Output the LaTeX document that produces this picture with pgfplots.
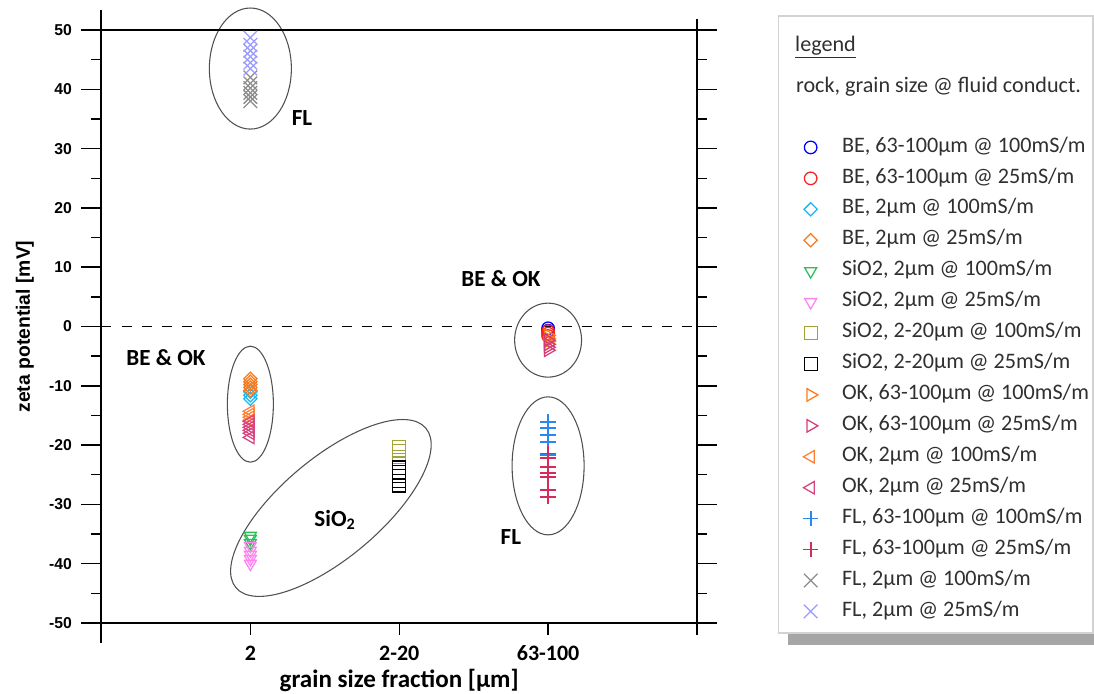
\documentclass[border=0pt]{standalone}
\usepackage{fontspec}
\setmainfont{Liberation Sans}
\newfontfamily\carlito{Carlito}
\usepackage{pgfplots}
\pgfplotsset{compat=1.18}
\usetikzlibrary{shadows}
\definecolor{cBEa}{HTML}{0000FF}
\definecolor{cBEb}{HTML}{FF2020}
\definecolor{cBEc}{HTML}{19B8F5}
\definecolor{cBEd}{HTML}{F87A1E}
\definecolor{cSIa}{HTML}{2DBE5A}
\definecolor{cSIb}{HTML}{FF82F0}
\definecolor{cSIc}{HTML}{A3A335}
\definecolor{cSId}{HTML}{000000}
\definecolor{cOKa}{HTML}{FF7A1A}
\definecolor{cOKb}{HTML}{D43C78}
\definecolor{cOKc}{HTML}{FF8036}
\definecolor{cOKd}{HTML}{D8457E}
\definecolor{cFLa}{HTML}{2A86F0}
\definecolor{cFLb}{HTML}{D42A5C}
\definecolor{cFLc}{HTML}{8C8C8C}
\definecolor{cFLd}{HTML}{9A9AFF}
\definecolor{ell}{HTML}{505050}
\definecolor{legtext}{HTML}{303030}
\newcommand{\lt}[1]{\textcolor{legtext}{#1}}
\begin{document}
\begin{tikzpicture}
% legend frame with shadow
\draw[draw=gray!35, fill=white, line width=0.8pt,
  drop shadow={shadow xshift=7.5pt, shadow yshift=-9pt, fill=gray!70, opacity=1}]
  (507.4pt,-7.5pt) rectangle (743.6pt,455.25pt);
\node[anchor=west, inner sep=0pt, text=legtext, font=\carlito\fontsize{16.6pt}{19pt}\selectfont] at (520.1pt,432pt) {\underline{legend}};
\node[anchor=west, inner sep=0pt, text=legtext, font=\carlito\fontsize{16.6pt}{19pt}\selectfont] at (520.8pt,402.5pt) {rock, grain size @ fluid conduct.};
\begin{axis}[
  at={(0pt,0pt)}, anchor=south west,
  scale only axis, width=446.6pt, height=444.75pt,
  xmin=0, xmax=4, ymin=-50, ymax=50,
  clip=false,
  axis line style={line width=1.5pt},
  every tick/.style={black, line width=1.1pt},
  tick align=outside,
  major tick length=15pt, minor tick length=7.5pt,
  xtick={1,2,3}, xticklabels={2,2-20,63-100},
  xtick pos=bottom, x tick style={draw=none}, xtick align=inside,
  xticklabel style={font=\carlito\bfseries\fontsize{16.5pt}{19pt}\selectfont, inner sep=0pt, anchor=north, yshift=-17pt},
  ytick={-50,-40,-30,-20,-10,0,10,20,30,40,50},
  yticklabels={-50,-40,-30,-20,-10,0,10,20,30,40,50},
  minor y tick num=1,
  ytick pos=both, yticklabel pos=left,
  yticklabel style={font=\bfseries\fontsize{11.8pt}{13pt}\selectfont, inner sep=0pt, xshift=-7.1pt},
  xlabel={grain size fraction [µm]},
  xlabel style={font=\carlito\bfseries\fontsize{18.8pt}{21pt}\selectfont, at={(axis description cs:0.5,-0.097)}, anchor=center},
  ylabel={zeta potential [mV]},
  ylabel style={font=\bfseries\fontsize{14.5pt}{16pt}\selectfont, at={(axis description cs:-0.1285,0.5)}, anchor=center},
  legend style={at={(axis description cs:1.1775,0.8193)}, anchor=north west,
    draw=none, fill=none, inner sep=0pt, row sep=8.2pt, column sep=17.7pt,
    font=\carlito\fontsize{16.6pt}{19pt}\selectfont,
    nodes={inner sep=0pt, text height=11pt, text depth=4pt}},
  legend cell align=left,
  every axis plot/.append style={only marks, line width=0.95pt},
]
\draw[line width=1.1pt, dash pattern=on 7.5pt off 7.5pt] (axis cs:0,0) -- (axis cs:4,0);
% BE
\addplot[cBEa, mark=o, mark size=4.7pt] coordinates {(3,-0.3) (3,-0.7)};
\addlegendentry{\lt{BE, 63-100µm @ 100mS/m}}
\addplot[cBEb, mark=o, mark size=4.7pt] coordinates {(3,-0.8) (3,-1.2) (3,-1.6)};
\addlegendentry{\lt{BE, 63-100µm @ 25mS/m}}
\addplot[cBEc, mark=square, mark size=3.5pt, mark options={rotate=45}] coordinates {(1,-11) (1,-11.6) (1,-12.2)};
\addlegendentry{\lt{BE, 2µm @ 100mS/m}}
\addplot[cBEd, mark=square, mark size=3.5pt, mark options={rotate=45}] coordinates {(1,-8.8) (1,-9.3) (1,-9.8) (1,-10.3) (1,-10.8)};
\addlegendentry{\lt{BE, 2µm @ 25mS/m}}
% SiO2
\addplot[cSIa, mark=triangle, mark size=5.2pt, mark options={rotate=180}] coordinates {(1,-35.3) (1,-35.8) (1,-36.5)};
\addlegendentry{\lt{SiO2, 2µm @ 100mS/m}}
\addplot[cSIb, mark=triangle, mark size=5.2pt, mark options={rotate=180}] coordinates {(1,-37) (1,-37.8) (1,-38.5) (1,-39.2) (1,-40)};
\addlegendentry{\lt{SiO2, 2µm @ 25mS/m}}
\addplot[cSIc, mark=square, mark size=4.9pt] coordinates {(2,-20.3) (2,-21) (2,-22) (2,-23)};
\addlegendentry{\lt{SiO2, 2-20µm @ 100mS/m}}
\addplot[cSId, mark=square, mark size=4.9pt] coordinates {(2,-23.8) (2,-24.5) (2,-25.2) (2,-26) (2,-26.8)};
\addlegendentry{\lt{SiO2, 2-20µm @ 25mS/m}}
% OK
\addplot[cOKa, mark=triangle, mark size=5.4pt, mark options={rotate=-90}] coordinates {(3,-1.5) (3,-2) (3,-2.5) (3,-3)};
\addlegendentry{\lt{OK, 63-100µm @ 100mS/m}}
\addplot[cOKb, mark=triangle, mark size=5.4pt, mark options={rotate=-90}] coordinates {(3,-2.3) (3,-3) (3,-3.5) (3,-4)};
\addlegendentry{\lt{OK, 63-100µm @ 25mS/m}}
\addplot[cOKc, mark=triangle, mark size=5.4pt, mark options={rotate=90}] coordinates {(1,-14.3) (1,-14.8) (1,-15.3) (1,-15.8)};
\addlegendentry{\lt{OK, 2µm @ 100mS/m}}
\addplot[cOKd, mark=triangle, mark size=5.4pt, mark options={rotate=90}] coordinates {(1,-16) (1,-16.5) (1,-17) (1,-17.5) (1,-18) (1,-18.7)};
\addlegendentry{\lt{OK, 2µm @ 25mS/m}}
% FL
\addplot[cFLa, mark=+, mark size=5.8pt, line width=1.3pt] coordinates {(3,-16.1) (3,-17.1) (3,-18.3) (3,-19.5) (3,-21.7) (3,-22.2)};
\addlegendentry{\lt{FL, 63-100µm @ 100mS/m}}
\addplot[cFLb, mark=+, mark size=5.8pt, line width=1.3pt] coordinates {(3,-21.4) (3,-22.2) (3,-23.7) (3,-24.7) (3,-25.4) (3,-27.6) (3,-28.7)};
\addlegendentry{\lt{FL, 63-100µm @ 25mS/m}}
\addplot[cFLc, mark=x, mark size=7.2pt] coordinates {(1,42) (1,41) (1,40.2) (1,39.4) (1,38.7) (1,38)};
\addlegendentry{\lt{FL, 2µm @ 100mS/m}}
\addplot[cFLd, mark=x, mark size=7.2pt] coordinates {(1,48.7) (1,47.5) (1,46.5) (1,45.5) (1,44.5) (1,43.5)};
\addlegendentry{\lt{FL, 2µm @ 25mS/m}}
% ellipses
\draw[ell, line width=0.8pt] (axis cs:1,43.5) ellipse[x radius=30.75pt, y radius=45.4pt];
\draw[ell, line width=0.8pt] (axis cs:1,-13.1) ellipse[x radius=17.25pt, y radius=43.5pt];
\draw[ell, line width=0.8pt] (axis cs:1.541,-30.6) ellipse[x radius=93pt, y radius=37.5pt, rotate=40];
\draw[ell, line width=0.8pt] (axis cs:3,-2.3) ellipse[x radius=25.1pt, y radius=27.75pt];
\draw[ell, line width=0.8pt] (axis cs:3,-23.5) ellipse[x radius=27pt, y radius=51.75pt];
% annotations
\node[font=\carlito\bfseries\fontsize{17.3pt}{20pt}\selectfont] at (axis cs:1.347,35.2) {FL};
\node[font=\carlito\bfseries\fontsize{17.3pt}{20pt}\selectfont] at (axis cs:0.433,-5.3) {BE \& OK};
\node[font=\carlito\bfseries\fontsize{17.3pt}{20pt}\selectfont] at (axis cs:2.683,8.0) {BE \& OK};
\node[font=\carlito\bfseries\fontsize{17.3pt}{20pt}\selectfont] at (axis cs:1.568,-32.6) {SiO\textsubscript{2}};
\node[font=\carlito\bfseries\fontsize{17.3pt}{20pt}\selectfont] at (axis cs:2.75,-35.5) {FL};
% axis line extensions and x ticks
\draw[line width=1.5pt] ([xshift=-15pt]rel axis cs:0,1) -- ([xshift=15pt]rel axis cs:1,1);
\draw[line width=1.5pt] ([xshift=-15pt]rel axis cs:0,0) -- ([xshift=15pt]rel axis cs:1,0);
\draw[line width=1.5pt] ([yshift=15pt]rel axis cs:0,1) -- ([yshift=-15pt]rel axis cs:0,0);
\draw[line width=1.5pt] ([yshift=8pt]rel axis cs:1,1) -- ([yshift=-9pt]rel axis cs:1,0);
\draw[line width=1.1pt] (axis cs:1,-50) -- ([yshift=-9pt]axis cs:1,-50);
\draw[line width=1.1pt] (axis cs:2,-50) -- ([yshift=-9pt]axis cs:2,-50);
\draw[line width=1.1pt] (axis cs:3,-50) -- ([yshift=-9pt]axis cs:3,-50);
\end{axis}
\pgfresetboundingbox
\useasboundingbox (-76.125pt,-52.5pt) rectangle (744.375pt,467.25pt);
\end{tikzpicture}
\end{document}
